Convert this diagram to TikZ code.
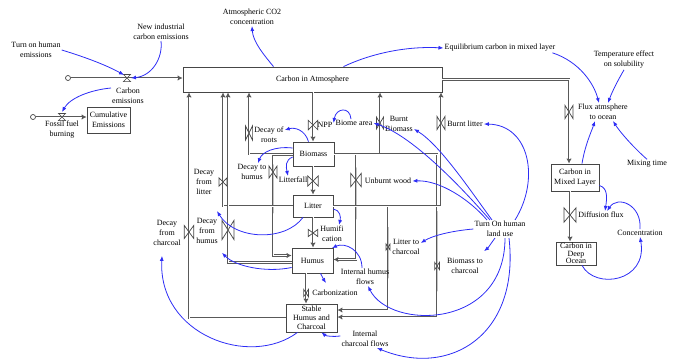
\documentclass[tikz,border=0pt]{standalone}
\usepackage{fontspec}
\setmainfont{Liberation Serif}
\usetikzlibrary{arrows.meta}
\definecolor{linkB}{RGB}{45,45,245}
\definecolor{pipeG}{RGB}{70,70,70}

\begin{document}
\begin{tikzpicture}[x=1pt,y=-1pt,font=\fontsize{8}{10}\selectfont,
  stock/.style={draw=pipeG,fill=white,line width=0.8pt,align=center,inner sep=1pt},
  lbl/.style={align=center,inner sep=1pt},
  pipeto/.style={draw=pipeG!90,line width=2.8pt,-{Latex[length=5pt,width=5.5pt]},
    postaction={draw=white,line width=1pt,-,shorten >=5pt}},
  link/.style={linkB,line width=0.8pt,-{Latex[length=5pt,width=4pt]}},
  valve/.pic={\draw[pipeG,fill=white,line width=0.7pt] (-4,-6)--(-4,6)--(4,-6)--(4,6)--cycle;},
  valveh/.pic={\draw[pipeG,fill=white,line width=0.7pt] (-4,-4)--(4,-4)--(-4,4)--(4,4)--cycle;}]
\useasboundingbox (0,0) rectangle (674,361);

\node[stock,minimum width=259pt,minimum height=25pt] (atm) at (312.5,79.5) {Carbon in Atmosphere};
\node[stock,minimum width=43pt,minimum height=26pt] (cum) at (108.5,120) {Cumulative\\Emissions};
\node[stock,minimum width=41pt,minimum height=24pt] (bio) at (313.5,154) {Biomass};
\node[stock,minimum width=40pt,minimum height=22pt] (lit) at (313,206) {Litter};
\node[stock,minimum width=41pt,minimum height=25pt] (hum) at (312.5,260.5) {Humus};
\node[stock,minimum width=51pt,minimum height=28pt,font=\fontsize{8}{9}\selectfont] (stab) at (311.5,318) {Stable\\Humus and\\Charcoal};
\node[stock,minimum width=48pt,minimum height=27pt] (mix) at (575,177.5) {Carbon in\\Mixed Layer};
\node[stock,minimum width=40pt,minimum height=23pt,inner sep=0pt,font=\fontsize{8}{7.5}\selectfont] (deep) at (576,253.5) {Carbon in\\Deep\\Ocean};
\node[draw=pipeG,circle,line width=0.7pt,inner sep=0pt,minimum size=5pt] (c1) at (68,78) {};
\node[draw=pipeG,circle,line width=0.7pt,inner sep=0pt,minimum size=5pt] (c2) at (33,117) {};

\coordinate (vce) at (127,78); \coordinate (vffb) at (62,117);
\coordinate (vnpp) at (313,125); \coordinate (vroot) at (249,133);
\coordinate (vdth) at (273,172); \coordinate (vlf) at (313,181);
\coordinate (vdfl) at (223,182); \coordinate (vdfh) at (228,230);
\coordinate (vdfc) at (189,232); \coordinate (vhc) at (313,233);
\coordinate (vcarb) at (306,293); \coordinate (vuw) at (356,180);
\coordinate (vbb) at (380,123); \coordinate (vbl) at (441,123);
\coordinate (vltc) at (388,247); \coordinate (vbc) at (437,266);
\coordinate (vflux) at (569,112); \coordinate (vdiff) at (570,215);
\coordinate (cz) at (326,283);

\draw[pipeto] (c1) -- (c1 -| atm.west);
\draw[pipeto] (c2) -- (c2 -| cum.west);
\draw[pipeto] (vnpp |- atm.south) -- (vnpp |- bio.north);
\draw[pipeto] (bio.west) -| (vroot |- atm.south);
\draw[pipeto] ([yshift=-2pt]bio.west) -| (vdth) |- ([yshift=5pt]hum.west);
\draw[pipeto] (lit.west) -| (vdfl |- atm.south);
\draw[pipeto] ([yshift=-2pt]hum.west) -| (vdfh |- atm.south);
\draw[pipeto] (stab.west) -| (vdfc |- atm.south);
\draw[pipeto] (vlf |- bio.south) -- (vlf |- lit.north);
\draw[pipeto] (vhc |- lit.south) -- (vhc |- hum.north);
\draw[pipeto] (vcarb |- hum.south) -- (vcarb |- stab.north);
\draw[pipeto] (bio.east) -| (vuw) |- ([yshift=1pt]hum.east);
\draw[pipeto] (bio.east) -| (vbb |- atm.south);
\draw[pipeto] (bio.east) -| (vbc) |- ([yshift=1pt]stab.east);
\draw[pipeto] (lit.east) -| (vbl |- atm.south);
\draw[pipeto] (lit.east) -| (vltc) |- ([yshift=8pt]stab.east);
\draw[pipeto] (atm.east) -| (vflux |- mix.north);
\draw[pipeto] (vdiff |- mix.south) -- (vdiff |- deep.north);

\pic[scale=0.9] at (vce) {valveh};
\pic[scale=0.9] at (vffb) {valveh};
\pic[xscale=1.2,yscale=0.8] at (vnpp) {valve};
\pic[xscale=0.9,yscale=1.2] at (vroot) {valve};
\pic at (vdth) {valve};
\pic[xscale=1.3,yscale=0.85] at (vlf) {valve};
\pic[yscale=0.7] at (vdfl) {valve};
\pic[xscale=1.5,yscale=1.6] at (vdfh) {valve};
\pic[xscale=1.2,yscale=1.1] at (vdfc) {valve};
\pic[xscale=1.2,yscale=0.6] at (vhc) {valve};
\pic[scale=0.6] at (vcarb) {valve};
\pic[xscale=1.3,yscale=1.1] at (vuw) {valve};
\pic[xscale=0.9] at (vbb) {valve};
\pic[yscale=1.1] at (vbl) {valve};
\pic[scale=0.5] at (vltc) {valve};
\pic[scale=0.6] at (vbc) {valve};
\pic[yscale=1.1] at (vflux) {valve};
\pic[xscale=1.5,yscale=1.2] at (vdiff) {valve};

\node[lbl] (tohe) at (36,50) {Turn on human\\emissions};
\node[lbl] (nice) at (161,32) {New industrial\\carbon emissions};
\node[lbl] (ce) at (128,96) {Carbon\\emissions};
\node[lbl] (ffb) at (62,130) {Fossil fuel\\burning};
\node[lbl] (aco) at (252,17) {Atmospheric CO2\\concentration};
\node[lbl] (eq) at (500,48) {Equilibrium carbon in mixed layer};
\node[lbl] (tes) at (624,60) {Temperature effect\\on solubility};
\node[lbl] (fluxl) at (603,112) {Flux atmsphere\\to ocean};
\node[lbl] (mt) at (647,164) {Mixing time};
\node[lbl] (conc) at (640,233) {Concentration};
\node[lbl] (diffl) at (601,215) {Diffusion flux};
\node[lbl] (nppl) at (325,125) {NPP};
\node[lbl] (bal) at (354,123) {Biome area};
\node[lbl] (bbl) at (399,124) {Burnt\\Biomass};
\node[lbl] (bll) at (465,124) {Burnt litter};
\node[lbl] (dorl) at (269,135) {Decay of\\roots};
\node[lbl] (dthl) at (252,172) {Decay to\\humus};
\node[lbl] (lfl) at (293,180) {Litterfall};
\node[lbl] (uwl) at (388,181) {Unburnt wood};
\node[lbl] (dfll) at (204,182) {Decay\\from\\litter};
\node[lbl] (dfhl) at (207,231) {Decay\\from\\humus};
\node[lbl] (dfcl) at (167,233) {Decay\\from\\charcoal};
\node[lbl] (hcl) at (332,234) {Humifi\\cation};
\node[lbl] (carbl) at (335,293) {Carbonization};
\node[lbl] (ltcl) at (406,247) {Litter to\\charcoal};
\node[lbl] (btcl) at (465,266) {Biomass to\\charcoal};
\node[lbl] (tolu) at (500,229) {Turn On human\\land use};
\node[lbl] (ihfl) at (365,277) {Internal humus\\flows};
\node[lbl] (icfl) at (365,339) {Internal\\charcoal flows};

\draw[link] (tohe.east) .. controls (88,58) and (108,66) .. ([shift={(-3,-3)}]vce);
\draw[link] (nice.south) .. controls (163,58) and (152,76) .. ([xshift=4pt]vce);
\draw[link] ([yshift=-1pt]ce.north west) .. controls (90,90) and (70,98) .. ([yshift=5pt]vffb);
\draw[link] ([xshift=-39pt]atm.north) .. controls (264,55) and (253,42) .. (aco.south);
\draw[link] ([xshift=31pt]atm.north) .. controls (370,54) and (405,46) .. (eq.west);
\draw[link] ([xshift=-4pt]eq.south east) .. controls (580,62) and (594,84) .. ([xshift=-4pt]fluxl.north);
\draw[link] (tes.south) .. controls (618,80) and (612,92) .. ([xshift=5pt]fluxl.north);
\draw[link] (mt.north) .. controls (633,147) and (620,132) .. ([xshift=10pt]fluxl.south);
\draw[link] ([xshift=7pt]mix.north) .. controls (585,145) and (592,130) .. ([xshift=-8pt]fluxl.south);
\draw[link] ([yshift=-8pt]mix.east) .. controls (608,188) and (607,198) .. ([xshift=4pt]diffl.north);
\draw[link] (conc.north) .. controls (642,205) and (618,195) .. ([xshift=6pt]diffl.north);
\draw[link] ([xshift=6pt]deep.south) .. controls (595,290) and (648,282) .. (conc.south);
\draw[link] ([xshift=15pt]tolu.north) .. controls (540,180) and (530,125) .. (bll.east);
\draw[link] ([xshift=-8pt]tolu.north) .. controls (470,190) and (440,145) .. ([yshift=-5pt]bbl.east);
\draw[link] ([xshift=-10pt]tolu.north) .. controls (455,180) and (410,135) .. (bal.east);
\draw[link] ([xshift=-13pt]tolu.north) .. controls (470,200) and (440,180) .. (uwl.east);
\draw[link] (tolu.west) .. controls (450,231) and (432,236) .. ([yshift=4pt]ltcl.east);
\draw[link] ([xshift=-5pt]tolu.south) .. controls (492,242) and (488,248) .. ([yshift=6pt]btcl.north east);
\draw[link] ([xshift=5pt]tolu.south) .. controls (505,330) and (390,330) .. ([xshift=3pt]ihfl.south);
\draw[link] ([xshift=9pt]tolu.south) .. controls (520,335) and (450,378) .. ([xshift=12pt]icfl.south);
\draw[link] ([xshift=-3pt]ihfl.north) .. controls (362,250) and (345,242) .. ([yshift=-5pt]hcl.south);
\draw[link] ([xshift=8pt]hum.south) .. controls (322,277) .. (cz);
\draw[link] ([yshift=-3pt]lit.east) .. controls (340,210) and (341,217) .. ([xshift=7pt]hcl.north);
\draw[link] ([yshift=3pt]icfl.west) .. controls (333,337) and (326,336) .. ([xshift=10pt]stab.south);
\draw[link] ([xshift=-5pt]bio.north) .. controls (305,130) and (295,127) .. ([yshift=5pt]dorl.east);
\draw[link] ([yshift=6pt]bio.west) .. controls (275,146) and (262,152) .. ([xshift=6pt]dthl.north);
\draw[link] ([yshift=-3pt]bio.west) .. controls (285,160) and (286,167) .. ([xshift=-5pt]lfl.north);
\draw[link] ([xshift=-3pt]bal.north) .. controls (350,106) and (336,108) .. ([yshift=2pt]nppl.east);
\draw[link] ([xshift=-10pt]lit.south) .. controls (285,242) and (235,240) .. ([shift={(10,-6)}]dfhl.north);
\draw[link] ([yshift=-7pt]hum.west) .. controls (265,273) and (235,266) .. ([shift={(15,8)}]dfhl.south);
\draw[link] ([xshift=-14pt]stab.south) .. controls (250,368) and (158,335) .. ([shift={(-5,9)}]dfcl.south);
\end{tikzpicture}
\end{document}
